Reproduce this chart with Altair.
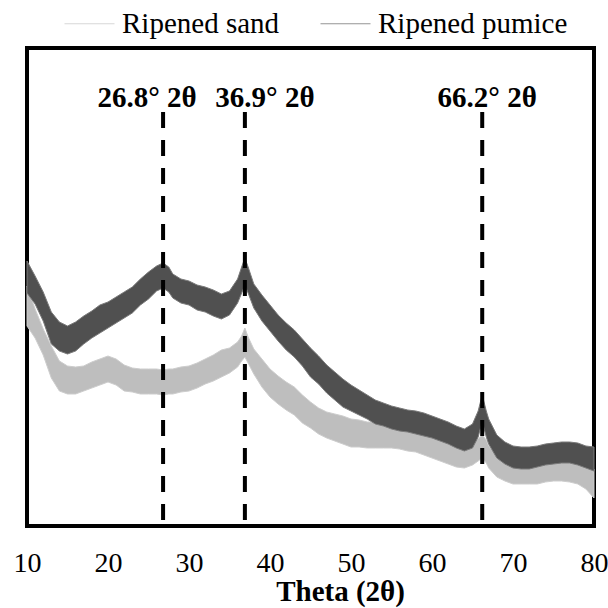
import altair as alt
import pandas as pd

# 2-theta positions (degrees)
theta = [10, 11, 12, 13, 14, 15, 16, 17, 18, 19, 20, 21, 22, 23, 24, 25, 26, 26.8, 27.5, 28,
         29, 30, 31, 32, 33, 34, 35, 36, 36.5, 36.9, 37.3, 38, 39, 40, 41, 42, 43, 44, 45, 46,
         47, 48, 49, 50, 51, 52, 53, 54, 55, 56, 57, 58, 59, 60, 61, 62, 63, 64, 65, 65.7,
         66.2, 66.7, 67, 68, 69, 70, 71, 72, 73, 74, 75, 76, 77, 78, 79, 80]

# Ripened pumice: upper / lower edge of the noisy trace (a.u.)
pumice_hi = [265, 250, 234, 214, 204, 200, 204, 210, 215, 221, 224, 229, 234, 239, 247, 254, 260, 263, 259, 252,
             247, 245, 241, 239, 236, 232, 235, 247, 259, 268, 259, 242, 231, 221, 211, 203, 196, 187, 178, 170,
             161, 154, 147, 141, 136, 131, 126, 123, 120, 118, 116, 115, 113, 110, 107, 104, 100, 97, 102, 115,
             131, 115, 107, 91, 84, 80, 79, 79, 80, 82, 83, 84, 84, 83, 80, 79]
pumice_lo = [233, 222, 205, 182, 175, 172, 175, 182, 188, 193, 198, 203, 208, 213, 221, 227, 235, 238, 234, 228,
             223, 221, 216, 214, 210, 207, 211, 223, 233, 241, 233, 218, 205, 195, 185, 176, 169, 160, 149, 142,
             133, 126, 119, 115, 111, 107, 102, 100, 97, 95, 94, 92, 90, 88, 85, 82, 78, 75, 78, 89,
             105, 89, 82, 68, 62, 58, 57, 57, 59, 61, 62, 63, 63, 61, 58, 55]

# Ripened sand: upper / lower edge of the noisy trace (a.u.)
sand_hi = [240, 217, 197, 180, 165, 160, 159, 160, 164, 167, 170, 167, 161, 158, 157, 157, 157, 156, 157, 157,
           159, 160, 163, 167, 171, 176, 178, 184, 190, 198, 189, 177, 167, 157, 150, 144, 139, 131, 124, 118,
           114, 112, 110, 107, 106, 104, 104, 103, 101, 100, 99, 97, 94, 90, 87, 84, 81, 80, 83, 87,
           91, 86, 80, 71, 67, 64, 64, 64, 64, 65, 67, 67, 65, 64, 60, 57]
sand_lo = [200, 188, 171, 148, 135, 132, 132, 135, 138, 141, 144, 141, 135, 134, 132, 132, 132, 131, 132, 132,
           134, 135, 138, 142, 145, 149, 153, 159, 165, 169, 163, 152, 139, 129, 122, 116, 111, 103, 98, 92,
           88, 85, 82, 79, 79, 78, 78, 78, 78, 77, 75, 74, 71, 68, 65, 62, 59, 58, 61, 65,
           68, 63, 58, 49, 45, 42, 42, 42, 42, 44, 45, 45, 44, 42, 37, 28]

series_names = ["Ripened sand", "Ripened pumice"]
series_colors = ["#bebebe", "#505050"]
series_edge = ["#cdcdcd", "#7a7a7a"]

peaks = [26.8, 36.9, 66.2]
peak_labels = ["26.8° 2θ", "36.9° 2θ", "66.2° 2θ"]
x_ticks = [10, 20, 30, 40, 50, 60, 70, 80]

FONT = "Liberation Serif"

sand_df = pd.DataFrame({"theta": theta, "lo": sand_lo, "hi": sand_hi, "series": series_names[0]})
pumice_df = pd.DataFrame({"theta": theta, "lo": pumice_lo, "hi": pumice_hi, "series": series_names[1]})
peak_df = pd.DataFrame({"theta": peaks, "label": peak_labels})

xscale = alt.Scale(domain=[10, 80], nice=False, zero=False)
yscale = alt.Scale(domain=[0, 478], nice=False, zero=False)

x_enc = alt.X(
    "theta:Q", scale=xscale,
    axis=alt.Axis(
        values=x_ticks, title="Theta (2θ)", grid=False, ticks=False, tickSize=0, domain=False,
        labelFont=FONT, labelFontSize=28, labelColor="black",
        labelBaseline="alphabetic", labelPadding=45, labelFlush=False,
        titleFont=FONT, titleFontSize=29, titleFontWeight="bold", titleColor="black",
        titleX=313, titleY=74, titleAlign="center", titleBaseline="alphabetic",
    ),
)

legend = alt.Legend(
    title=None, orient="none", direction="horizontal", columns=2,
    legendX=37, legendY=-50, padding=0,
    symbolType="stroke", symbolSize=2500, symbolStrokeWidth=0.8,
    labelFont=FONT, labelFontSize=29, labelColor="black",
    labelOffset=7, columnPadding=38, labelLimit=400,
)


def band(df, fill_color):
    return alt.Chart(df).mark_area(fill=fill_color, fillOpacity=1).encode(
        x=x_enc,
        y=alt.Y("hi:Q", scale=yscale, axis=None),
        y2="lo:Q",
        stroke=alt.Stroke(
            "series:N", scale=alt.Scale(domain=series_names, range=series_edge), legend=legend
        ),
    )


sand = band(sand_df, series_colors[0])
pumice = band(pumice_df, series_colors[1])

rules = alt.Chart(peak_df).mark_rule(
    color="black", strokeWidth=4, strokeDash=[16, 12], strokeCap="butt"
).encode(x=alt.X("theta:Q", scale=xscale), y=alt.value(64), y2=alt.value(478))

text_offsets = [-16, 20, 5]
texts = []
for i in range(3):
    texts.append(
        alt.Chart(peak_df.iloc[[i]]).mark_text(
            font=FONT, fontSize=29, fontWeight="bold", color="black",
            baseline="alphabetic", align="center", dx=text_offsets[i],
        ).encode(x=alt.X("theta:Q", scale=xscale), y=alt.value(59), text="label:N")
    )

chart = (
    alt.layer(sand, pumice, rules, *texts)
    .properties(
        width=567, height=478,
        autosize=alt.AutoSizeParams(type="none"),
        padding={"left": 27, "top": 48, "right": 14, "bottom": 82},
        background="white",
    )
    .configure(font=FONT)
    .configure_view(stroke="black", strokeWidth=4)
    .configure_axis(labelFont=FONT, titleFont=FONT)
    .configure_legend(labelFont=FONT)
)

chart.save("out.html", embed_options={"renderer": "svg", "actions": False})
